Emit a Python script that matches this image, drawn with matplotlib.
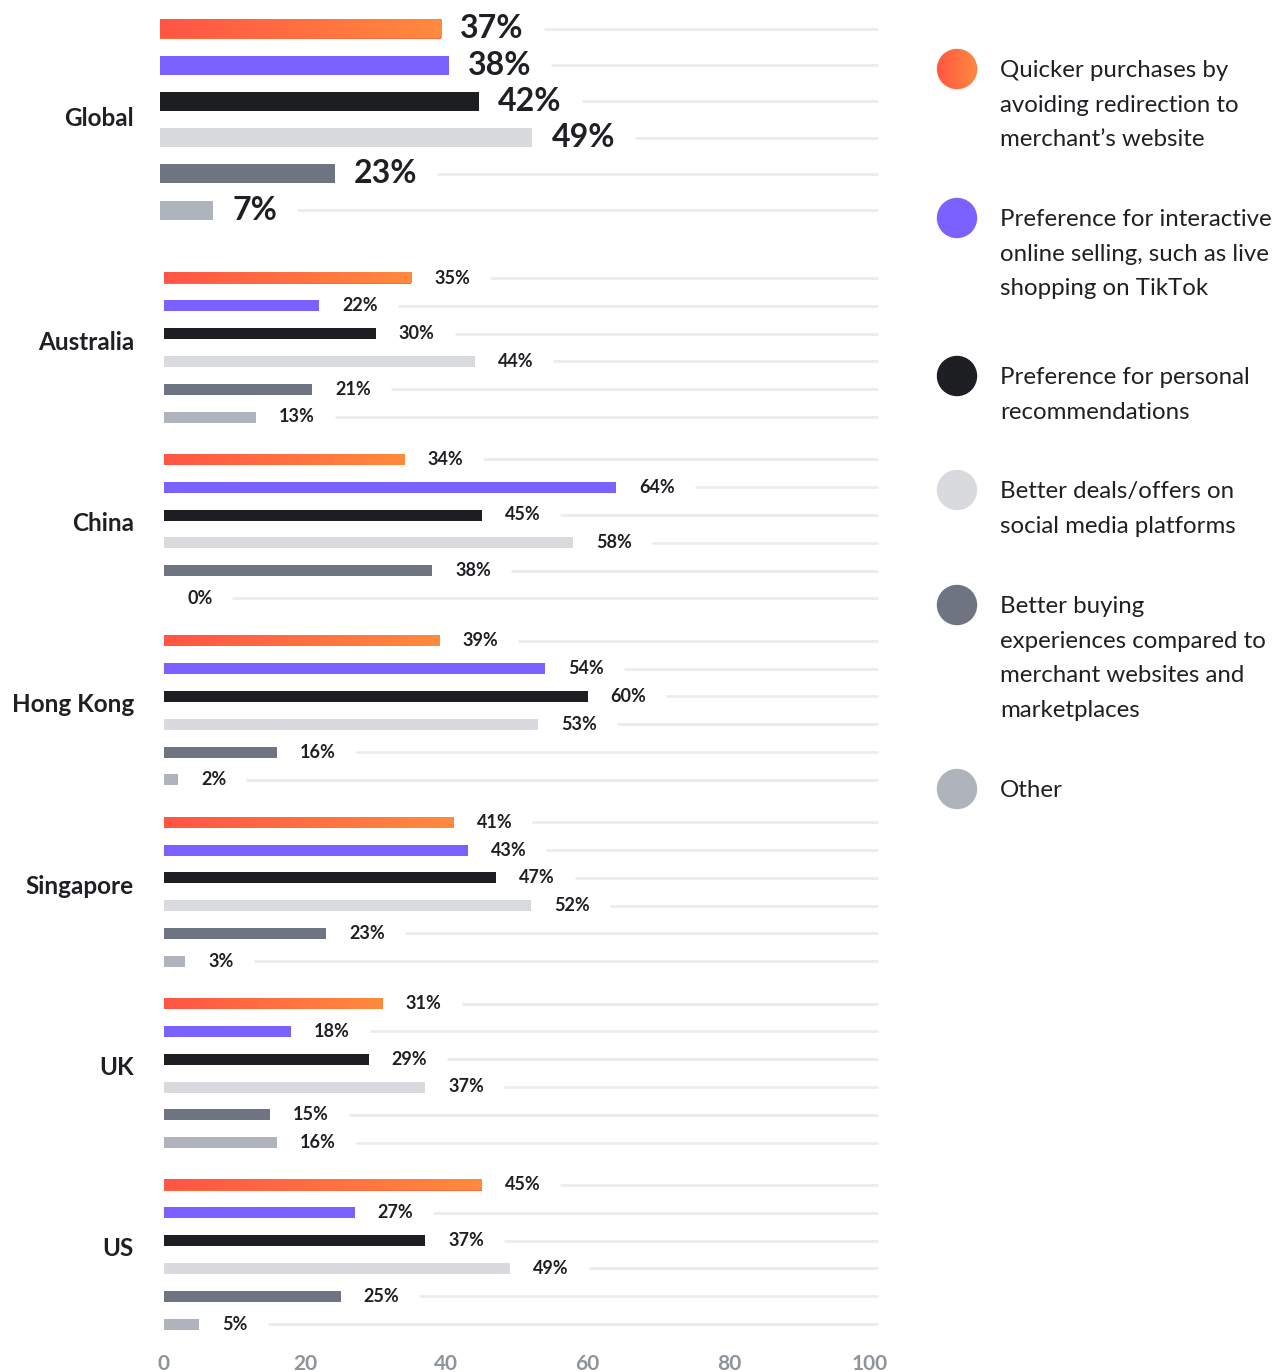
import numpy as np
import matplotlib
matplotlib.use('Agg')
import matplotlib.pyplot as plt
from matplotlib.patches import Circle

plt.rcParams['font.family'] = ['Lato', 'DejaVu Sans']

# data
countries = ['Global', 'Australia', 'China', 'Hong Kong', 'Singapore', 'UK', 'US']
series_names = [
    'Quicker purchases by\navoiding redirection to\nmerchant\u2019s website',
    'Preference for interactive\nonline selling, such as live\nshopping on TikTok',
    'Preference for personal\nrecommendations',
    'Better deals/offers on\nsocial media platforms',
    'Better buying\nexperiences compared to\nmerchant websites and\nmarketplaces',
    'Other',
]
quicker = [37, 35, 34, 39, 41, 31, 45]
interactive = [38, 22, 64, 54, 43, 18, 27]
personal = [42, 30, 45, 60, 47, 29, 37]
deals = [49, 44, 58, 53, 52, 37, 49]
buying = [23, 21, 38, 16, 23, 15, 25]
other = [7, 13, 0, 2, 3, 16, 5]
series = [quicker, interactive, personal, deals, buying, other]
ticks = [0, 20, 40, 60, 80, 100]

colors = ['#FF6A40', '#7B61FF', '#1C1E22', '#D8DADE', '#6E7480', '#AEB3BC']
grad = np.linspace(0, 1, 256).reshape(1, -1)
grad_cmap = matplotlib.colors.LinearSegmentedColormap.from_list('og', ['#FF5545', '#FF8A3D'])
grid_color = '#EBECEF'
text_color = '#1E2024'

W, H = 1275, 1372
fig = plt.figure(figsize=(W / 100, H / 100), dpi=100)

bottom_px = 1346


def px_axes(x0, x1):
    return fig.add_axes([x0 / W, (H - bottom_px) / H, (x1 - x0) / W, bottom_px / H])


ax_g = px_axes(160, 920)   # global panel, wider scale
ax = px_axes(164, 870)     # country panels
ov = fig.add_axes([0, 0, 1, 1])
ov.set_xlim(0, W)
ov.set_ylim(H, 0)
ov.axis('off')

for a in (ax_g, ax):
    a.set_xlim(0, 100)
    a.set_ylim(bottom_px, 0)
    a.patch.set_alpha(0)
    for s in a.spines.values():
        s.set_visible(False)
    a.set_yticks([])
ax_g.set_xticks([])
ax.set_xticks(ticks)
ax.set_xticklabels([str(t) for t in ticks])
ax.tick_params(axis='x', length=0, pad=6, labelsize=15, labelcolor='#8E949C')
for lab in ax.get_xticklabels():
    lab.set_fontweight('bold')

labels = []  # (axis, y, text)
for ci, country in enumerate(countries):
    if ci == 0:
        a = ax_g
        ys = [29 + 36.2 * i for i in range(6)]
        h, fs, off = 19, 23, 19
    else:
        a = ax
        ys = [278 + 181.4 * (ci - 1) + 27.8 * i for i in range(6)]
        h, fs, off = 11, 13, 23
    for si in range(6):
        v = series[si][ci]
        y = ys[si]
        a.barh(y, v, height=h, color=colors[si], zorder=3)
        if si == 0 and v > 0:
            a.imshow(grad, cmap=grad_cmap, extent=[0, v, y + h / 2, y - h / 2],
                     aspect='auto', zorder=4)
        t = a.annotate(f'{v}%', (v, y), xytext=(off, 0), textcoords='offset pixels',
                       ha='left', va='center', fontsize=fs, fontweight='bold',
                       color=text_color, zorder=5)
        labels.append((a, y, t))
    a.set_xlim(0, 100)
    a.set_ylim(bottom_px, 0)
    yc = (ys[0] + ys[-1]) / 2
    ov.text(134, yc + 2 if ci else yc + 7, country, ha='right', va='baseline',
            fontsize=17.5, fontweight='bold', color=text_color)

# gridlines start after each value label
fig.canvas.draw()
r = fig.canvas.get_renderer()
for a, y, t in labels:
    bb = t.get_window_extent(r)
    x_start = a.transData.inverted().transform((bb.x1 + 20, 0))[0]
    x_end = a.transData.inverted().transform((878.0, 0))[0]
    a.hlines(y, x_start, x_end, color=grid_color, lw=2, zorder=1, clip_on=False)

# legend
leg_y = [69, 218, 376, 490, 605, 789]
for si, name in enumerate(series_names):
    y0 = leg_y[si]
    c = Circle((957, y0), 19.5, color=colors[si], zorder=3)
    ov.add_patch(c)
    if si == 0:
        im = ov.imshow(grad, cmap=grad_cmap, extent=[937, 977, y0 + 20, y0 - 20],
                       aspect='auto', zorder=4)
        im.set_clip_path(c)
    for li, line in enumerate(name.split('\n')):
        ov.text(1000, y0 + 34.7 * li + 8, line, ha='left', va='baseline',
                fontsize=17.3, color=text_color)
ov.set_xlim(0, W)
ov.set_ylim(H, 0)

fig.savefig('out.png', dpi=100)
